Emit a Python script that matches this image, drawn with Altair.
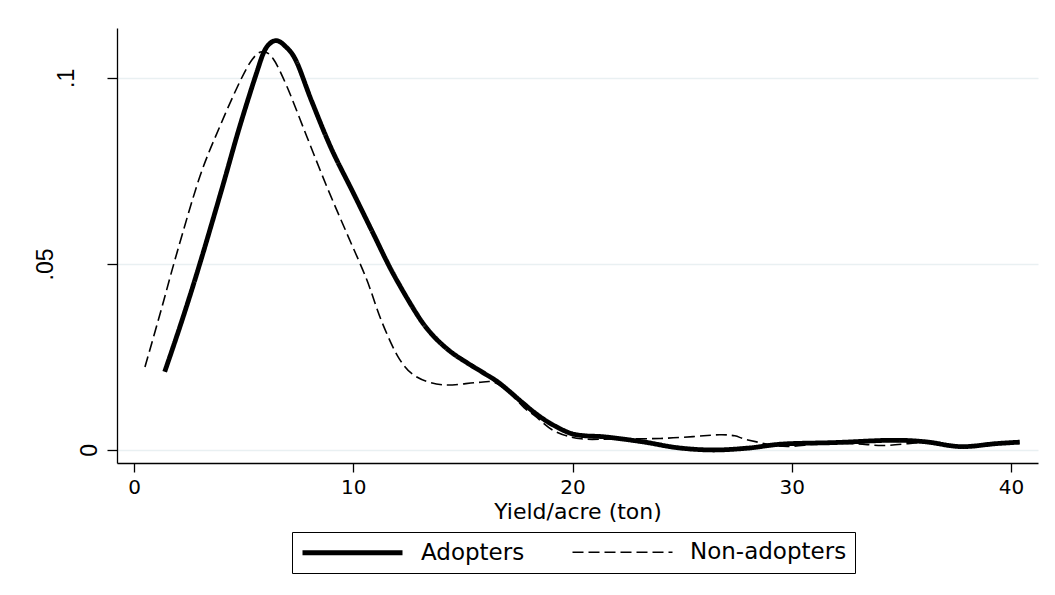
import altair as alt
import pandas as pd

# ---- data ----
adopters_x = [1.4, 2.2, 3.0, 4.0, 4.8, 5.6, 6.0, 6.45, 6.9, 7.4, 8.1, 9.0, 10.0, 10.9,
              11.8, 12.9, 13.6, 14.4, 15.2, 16.0, 16.7, 17.7, 18.3, 19.0, 19.9, 20.6,
              21.5, 23.2, 24.8, 26.4, 28.0, 29.6, 32.0, 34.5, 36.1, 37.7, 39.3, 40.4]
adopters_y = [0.0210, 0.0350, 0.0500, 0.0700, 0.0865, 0.1015, 0.1078, 0.1100, 0.1085, 0.1045,
              0.0938, 0.0810, 0.0691, 0.0583, 0.0476, 0.0365, 0.0310, 0.0266, 0.0234, 0.0205,
              0.0178, 0.0128, 0.0099, 0.0071, 0.0045, 0.0038, 0.0035, 0.0022, 0.0006, 0.0000,
              0.0005, 0.0016, 0.0020, 0.0026, 0.0022, 0.0009, 0.0017, 0.0021]

non_x = [0.5, 1.2, 1.96, 3.0, 3.92, 4.83, 5.4, 5.85, 6.34, 6.98, 7.89, 8.8, 9.7, 10.6,
         11.3, 12.1, 12.9, 14.1, 15.6, 16.4, 17.1, 17.8, 18.3, 19.2, 20.4, 22.0, 24.0,
         25.5, 26.7, 27.4, 28.0, 29.6, 31.2, 32.8, 34.1, 35.3, 35.8]
non_y = [0.0223, 0.0368, 0.0530, 0.0734, 0.0870, 0.0990, 0.1050, 0.1070, 0.1052, 0.0976,
         0.0841, 0.0707, 0.0583, 0.0460, 0.0345, 0.0245, 0.0196, 0.0175, 0.0181, 0.0182,
         0.0155, 0.0113, 0.0091, 0.0050, 0.0030, 0.0030, 0.0031, 0.0036, 0.0041, 0.0038,
         0.0027, 0.0010, 0.0016, 0.0017, 0.0012, 0.0017, 0.0020]

series_names = ["Adopters", "Non-adopters"]
x_ticks = [0, 10, 20, 30, 40]
y_ticks = [0, 0.05, 0.1]

df = pd.concat([
    pd.DataFrame({"x": adopters_x, "y": adopters_y, "series": series_names[0]}),
    pd.DataFrame({"x": non_x, "y": non_y, "series": series_names[1]}),
])

legend_def = alt.Legend(
    title=None, orient="none", legendX=175, legendY=504, direction="horizontal",
)

chart = alt.Chart(df).mark_line(interpolate="cardinal", color="black", strokeCap="butt").encode(
    x=alt.X("x:Q",
            scale=alt.Scale(domain=[-0.775, 41.23], nice=False, zero=False),
            axis=alt.Axis(values=x_ticks, title="Yield/acre (ton)", grid=False,
                          tickSize=9, labelPadding=5, labelFont="DejaVu Sans", labelFontSize=20,
                          titleFont="DejaVu Sans", titleFontSize=22, titleFontWeight="normal",
                          titleY=55, titleBaseline="alphabetic")),
    y=alt.Y("y:Q",
            scale=alt.Scale(domain=[-0.0035, 0.1134], nice=False, zero=False),
            axis=alt.Axis(values=y_ticks, title=None, grid=True, gridColor="#E9F0F2", gridWidth=1.5,
                          tickSize=10, labelAngle=270, labelAlign="center", labelBaseline="alphabetic",
                          labelExpr="datum.value < 0.025 ? '0' : (datum.value < 0.075 ? '.05' : '.1')",
                          labelPadding={"condition": [{"test": "datum.value < 0.025", "value": 11},
                                                      {"test": "datum.value < 0.075", "value": 55}],
                                        "value": 34},
                          labelFont="Liberation Sans", labelFontSize=23)),
    strokeDash=alt.StrokeDash("series:N",
                              scale=alt.Scale(domain=series_names, range=[[1, 0], [11, 5]]),
                              legend=legend_def),
    strokeWidth=alt.StrokeWidth("series:N",
                                scale=alt.Scale(domain=series_names, range=[4.8, 1.6]),
                                legend=legend_def),
).properties(
    width=921, height=435,
    autosize=alt.AutoSizeParams(type="none"),
    padding={"left": 117, "top": 28, "right": 17, "bottom": 132},
    background="white",
).configure_view(stroke=None).configure_axis(
    domainColor="black", domainWidth=1.3, tickColor="black", tickWidth=1.3,
    labelColor="black", titleColor="black",
).configure_legend(
    strokeColor="black", strokeWidth=1, fillColor="white", padding=8,
    symbolType="M-1,0L9,0", symbolSize=400, symbolStrokeColor="black",
    labelFont="DejaVu Sans", labelFontSize=23, labelColor="black",
    labelOffset=96, columnPadding=44, labelLimit=400,
)

chart.save("out.html", embed_options={"renderer": "svg", "actions": False})
